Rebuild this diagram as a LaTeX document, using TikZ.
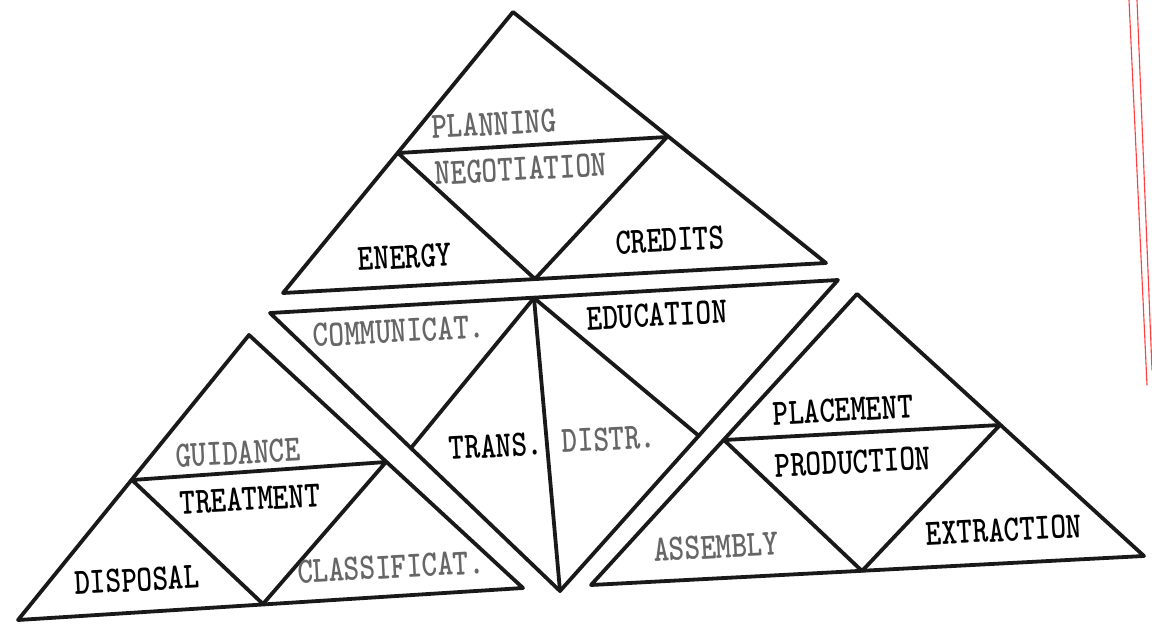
\documentclass[tikz,border=0pt]{standalone}
\usepackage{tikz}
\tikzset{
  every picture/.style={line join=round, line cap=round},
  edge/.style={line width=2.7pt, black!90},
  tlab/.style={font=\fontsize{24}{24}\selectfont\ttfamily\bfseries, inner sep=0pt, rotate=3, xscale=0.88, yscale=1.1},
  dim/.style={text=black!60},
  margin/.style={red!75, line width=0.8pt},
}
\begin{document}
\begin{tikzpicture}[x=0.025cm,y=-0.025cm]
\useasboundingbox (0,0) rectangle (1152,624);
\coordinate (tA) at (513,12);
\coordinate (tB) at (283,293);
\coordinate (tC) at (826,263);
\coordinate (tL) at (398,153);
\coordinate (tR) at (667,137);
\coordinate (tM) at (535,279);
\draw[edge] (tA)--(tB)--(tC)--cycle;
\draw[edge] (tL)--(tR)--(tM)--cycle;
\coordinate (mTL) at (270,313);
\coordinate (mTR) at (838,280);
\coordinate (mBot) at (560,591);
\coordinate (mTM) at (534,298);
\coordinate (mLM) at (411,448);
\coordinate (mRM) at (699,436);
\draw[edge] (mTL)--(mTR)--(mBot)--cycle;
\draw[edge] (mLM)--(mTM)--(mRM);
\draw[edge] (mTM)--(mBot);
\coordinate (lA) at (249,335);
\coordinate (lB) at (18,620);
\coordinate (lC) at (523,588);
\coordinate (lL) at (132,480);
\coordinate (lR) at (386,462);
\coordinate (lM) at (263,604);
\draw[edge] (lA)--(lB)--(lC)--cycle;
\draw[edge] (lL)--(lR)--(lM)--cycle;
\coordinate (rA) at (857,294);
\coordinate (rB) at (591,585);
\coordinate (rC) at (1144,556);
\coordinate (rL) at (724,440);
\coordinate (rR) at (1000,425);
\coordinate (rM) at (862,571);
\draw[edge] (rA)--(rB)--(rC)--cycle;
\draw[edge] (rL)--(rR)--(rM)--cycle;
\node[tlab,dim] (planning) at (494,124) {PLANNING};
\node[tlab,dim] (negotiation) at (521,169) {NEGOTIATION};
\node[tlab] (energy) at (405,257) {ENERGY};
\node[tlab] (credits) at (670,240) {CREDITS};
\node[tlab,dim] (communicat) at (399,331) {COMMUNICAT.};
\node[tlab] (education) at (657,315) {EDUCATION};
\node[tlab] (trans) at (496,446) {TRANS.};
\node[tlab,dim] (distr) at (609,439) {DISTR.};
\node[tlab,dim] (guidance) at (238,453) {GUIDANCE};
\node[tlab] (treatment) at (250,499) {TREATMENT};
\node[tlab] (disposal) at (137,580) {DISPOSAL};
\node[tlab,dim] (classificat) at (391,567) {CLASSIFICAT.};
\node[tlab] (placement) at (843,410) {PLACEMENT};
\node[tlab] (production) at (853,462) {PRODUCTION};
\node[tlab,dim] (assembly) at (716,547) {ASSEMBLY};
\node[tlab] (extraction) at (1004,530) {EXTRACTION};
\coordinate (mg1) at (1129,0);
\coordinate (mg2) at (1137,0);
\draw[margin] (mg1)--(1147,385);
\draw[margin] (mg2)--(1152,370);
\end{tikzpicture}
\end{document}
